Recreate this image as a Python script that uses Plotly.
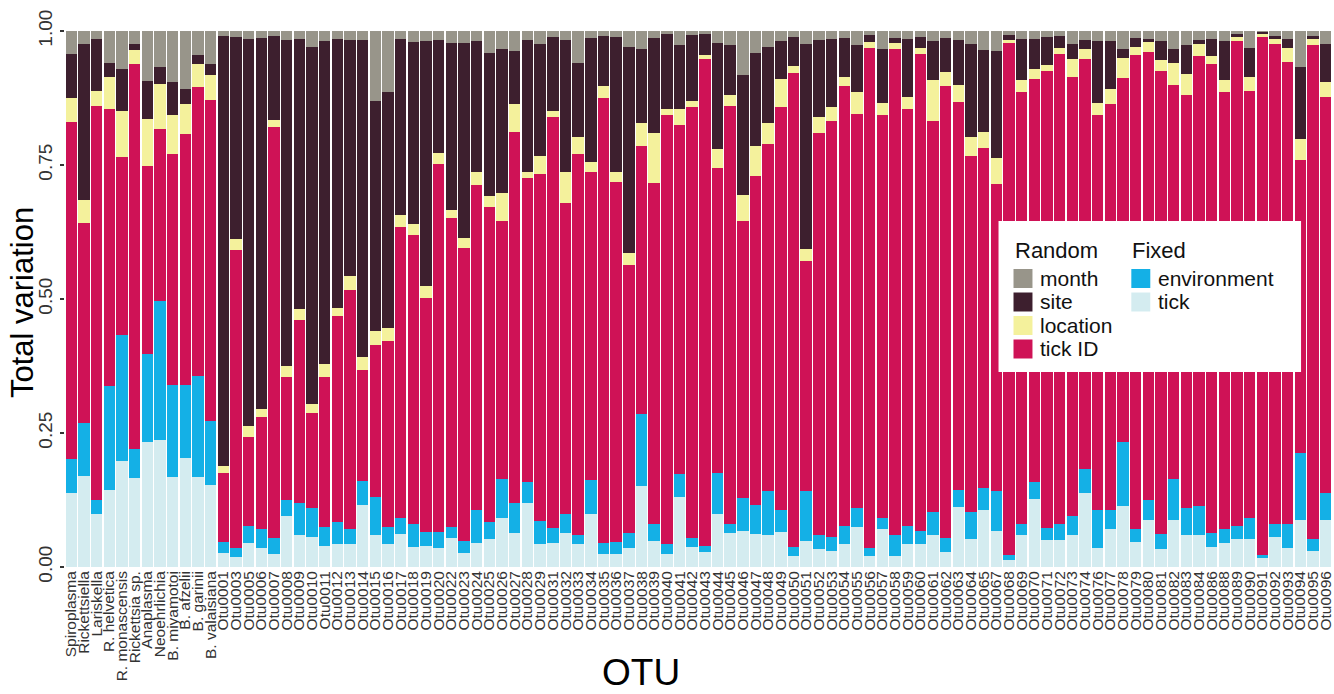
import plotly.graph_objects as go

categories = [
    "Spiroplasma", "Rickettsiella", "Lariskella", "R. helvetica", "R. monascensis",
    "Rickettsia sp.", "Anaplasma", "Neoehrlichia", "B. miyamotoi", "B. afzelii",
    "B. garinii", "B. valaisiana",
    "Otu0001", "Otu0003", "Otu0005", "Otu0006", "Otu0007", "Otu0008", "Otu0009", "Otu0010",
    "Otu0011", "Otu0012", "Otu0013", "Otu0014", "Otu0015", "Otu0016", "Otu0017", "Otu0018",
    "Otu0019", "Otu0020",
    "Otu0022", "Otu0023", "Otu0024", "Otu0025", "Otu0026", "Otu0027", "Otu0028", "Otu0029",
    "Otu0031", "Otu0032", "Otu0033", "Otu0034", "Otu0035", "Otu0036", "Otu0037", "Otu0038",
    "Otu0039", "Otu0040", "Otu0041", "Otu0042", "Otu0043", "Otu0044", "Otu0045", "Otu0046",
    "Otu0047", "Otu0048", "Otu0049", "Otu0050", "Otu0051", "Otu0052",
    "Otu0053", "Otu0054", "Otu0055", "Otu0056", "Otu0057", "Otu0058", "Otu0059", "Otu0060",
    "Otu0061", "Otu0062", "Otu0063", "Otu0064", "Otu0065",
    "Otu0067", "Otu0068", "Otu0069", "Otu0070", "Otu0071", "Otu0072", "Otu0073", "Otu0074",
    "Otu0076", "Otu0077", "Otu0078", "Otu0079", "Otu0080", "Otu0081", "Otu0082", "Otu0083",
    "Otu0084", "Otu0086",
    "Otu0088", "Otu0089", "Otu0090", "Otu0091", "Otu0092", "Otu0093", "Otu0094", "Otu0095",
    "Otu0096",
]

# Fixed effects
tick = [
    .138, .170, .099, .144, .197, .166, .234, .237, .168, .203, .168, .153,
    .027, .018, .044, .036, .025, .095, .059, .056,
    .040, .042, .042, .116, .060, .043, .062, .038, .040, .036,
    .055, .027, .045, .053, .092, .064, .119, .042,
    .044, .064, .042, .099, .025, .025, .036, .151, .049, .025, .131, .038, .028, .099, .064, .068,
    .062, .060, .066, .021, .049, .033,
    .030, .042, .075, .021, .071, .021, .042, .043, .059, .028, .112, .053, .107,
    .068, .013, .059, .127, .051, .051, .059, .138,
    .036, .070, .114, .047, .088, .034, .088, .059, .060,
    .038,
    .044, .053, .053, .016, .056, .036, .088, .030, .088,
]
environment = [
    .063, .099, .026, .194, .235, .054, .164, .259, .172, .137, .189, .120,
    .020, .018, .033, .034, .030, .030, .060, .054,
    .035, .042, .029, .044, .071, .032, .030, .043, .026, .030,
    .020, .022, .061, .031, .072, .055, .039, .044,
    .029, .035, .018, .063, .019, .022, .028, .135, .031, .017, .042, .017, .011, .076, .017, .060,
    .054, .082, .041, .017, .093, .027,
    .026, .035, .035, .015, .020, .038, .035, .025, .044, .027, .031, .050, .040,
    .074, .010, .022, .031, .022, .030, .037, .044,
    .071, .037, .120, .023, .037, .028, .076, .051, .054,
    .026,
    .027, .024, .038, .007, .025, .045, .124, .023, .050,
]
# Random effects
tick_id = [
    .629, .373, .735, .516, .333, .719, .351, .321, .430, .467, .539, .598,
    .128, .556, .166, .209, .765, .230, .342, .178,
    .280, .384, .445, .208, .284, .347, .543, .539, .435, .686,
    .576, .547, .607, .588, .481, .693, .568, .648,
    .766, .581, .710, .575, .831, .672, .499, .499, .637, .801, .651, .803, .908, .569, .779, .517,
    .614, .647, .751, .884, .428, .749,
    .776, .820, .736, .933, .753, .908, .777, .890, .729, .842, .724, .663, .634,
    .573, .955, .805, .753, .853, .877, .819, .766,
    .736, .756, .678, .885, .835, .864, .736, .770, .840,
    .875,
    .815, .904, .798, .966, .895, .862, .547, .920, .738,
]
location = [
    .045, .043, .029, .061, .085, .026, .086, .084, .073, .057, .043, .046,
    .013, .020, .021, .015, .014, .020, .020, .017,
    .023, .016, .026, .024, .025, .024, .021, .020, .024, .020,
    .015, .017, .024, .021, .053, .052, .011, .032,
    .011, .057, .032, .018, .022, .018, .022, .043, .092, .011, .030, .011, .009, .035, .020, .049,
    .055, .039, .053, .013, .023, .030,
    .026, .018, .040, .011, .021, .011, .022, .011, .076, .026, .033, .037, .031,
    .048, .006, .023, .019, .011, .011, .033, .019,
    .022, .029, .037, .015, .020, .019, .041, .039, .021,
    .014,
    .023, .008, .026, .006, .009, .026, .039, .012, .028,
]
site = [
    .083, .291, .096, .026, .080, .011, .072, .031, .061, .028, .017, .022,
    .803, .377, .722, .693, .157, .609, .504, .666,
    .603, .501, .442, .592, .429, .440, .329, .340, .456, .212,
    .312, .365, .244, .266, .269, .099, .247, .210,
    .139, .247, .139, .232, .094, .252, .385, .139, .178, .141, .119, .124, .039, .199, .093, .224,
    .174, .143, .071, .054, .383, .145,
    .127, .072, .088, .013, .102, .009, .109, .020, .073, .064, .084, .173, .153,
    .200, .009, .076, .055, .052, .022, .028, .017,
    .116, .089, .018, .017, .005, .036, .026, .055, .009,
    .032,
    .072, .006, .054, .004, .006, .016, .134, .006, .072,
]
month = [
    .042, .024, .015, .059, .070, .024, .093, .068, .096, .108, .044, .061,
    .009, .011, .014, .013, .009, .016, .015, .029,
    .019, .015, .016, .016, .131, .114, .015, .020, .019, .016,
    .022, .022, .019, .041, .033, .037, .016, .024,
    .011, .016, .059, .013, .009, .011, .030, .033, .013, .005, .027, .007, .005, .022, .027, .082,
    .041, .029, .018, .011, .024, .016,
    .015, .013, .026, .007, .033, .013, .015, .011, .019, .013, .016, .024, .035,
    .037, .007, .015, .015, .011, .009, .024, .016,
    .019, .019, .033, .013, .015, .019, .033, .026, .016,
    .015,
    .019, .005, .031, .001, .009, .015, .068, .009, .024,
]

for arr in (tick, environment, tick_id, location, site, month):
    assert len(arr) == len(categories), len(arr)

y_ticks = [0, 0.25, 0.5, 0.75, 1.0]
y_tick_labels = ["0.00", "0.25", "0.50", "0.75", "1.00"]

legend_groups = ["Random", "Fixed"]
random_terms = ["month", "site", "location", "tick ID"]
fixed_terms = ["environment", "tick"]

colours = {
    "tick": "#d4ecf0",
    "environment": "#14b0e6",
    "tick ID": "#cf1256",
    "location": "#f4f19c",
    "site": "#3d1f2e",
    "month": "#98958a",
}

FONT = "Liberation Sans, Arial, Helvetica, sans-serif"

# figure geometry (pixels)
W, H = 1334, 694
ML, MR, MT, MB = 65, 0, 31, 127
PW, PH = W - ML - MR, H - MT - MB


def px_x(px):
    return (px - ML) / PW


def px_y(py):
    return (H - MB - py) / PH


stack = [("tick", tick), ("environment", environment), ("tick ID", tick_id),
         ("location", location), ("site", site), ("month", month)]

fig = go.Figure()
for name, vals in stack:
    fig.add_trace(go.Bar(
        x=categories, y=vals, name=name, showlegend=False,
        marker=dict(color=colours[name], line=dict(width=0)),
    ))

# ---- legend (two titled columns inside a white box) ----
shapes = [dict(
    type="rect", xref="paper", yref="paper",
    x0=px_x(1000), x1=px_x(1303), y0=px_y(372), y1=px_y(221),
    fillcolor="white", line=dict(width=0), layer="above",
)]
annotations = []
LEG_FONT = 21
columns = [(legend_groups[0], random_terms, 1015, 1034, 1042),
           (legend_groups[1], fixed_terms, 1133, 1152, 1160)]
row_y = [278, 301.5, 325, 348.5]
for title, terms, title_x, sw_x1, text_x in columns:
    annotations.append(dict(
        text=title, xref="paper", yref="paper", x=px_x(title_x - 1), y=px_y(251),
        xanchor="left", yanchor="middle", showarrow=False,
        font=dict(size=22, color="#111111", family=FONT),
    ))
    for term, cy in zip(terms, row_y):
        shapes.append(dict(
            type="rect", xref="paper", yref="paper",
            x0=px_x(title_x), x1=px_x(sw_x1), y0=px_y(cy + 10), y1=px_y(cy - 9),
            fillcolor=colours[term], line=dict(width=0), layer="above",
        ))
        annotations.append(dict(
            text=term, xref="paper", yref="paper", x=px_x(text_x - 2), y=px_y(cy),
            xanchor="left", yanchor="middle", showarrow=False,
            font=dict(size=LEG_FONT, color="#111111", family=FONT),
        ))

# axis titles
annotations.append(dict(
    text="OTU", xref="paper", yref="paper", x=px_x(642), y=px_y(672),
    xanchor="center", yanchor="middle", showarrow=False,
    font=dict(size=37, color="#000000", family=FONT),
))
annotations.append(dict(
    text="Total variation", xref="paper", yref="paper", x=px_x(22), y=px_y(303),
    xanchor="center", yanchor="middle", textangle=-90, showarrow=False,
    font=dict(size=31, color="#000000", family=FONT),
))

fig.update_layout(
    width=W, height=H,
    barmode="stack", bargap=0.1,
    plot_bgcolor="white", paper_bgcolor="white",
    margin=dict(l=ML, r=MR, t=MT, b=MB),
    font=dict(family=FONT, color="#333333"),
    showlegend=False,
    xaxis=dict(
        type="category", tickangle=-90, tickfont=dict(size=15.5, color="#333333"),
        tickmode="array", tickvals=categories, ticktext=categories,
        showgrid=False, zeroline=False, showline=False, ticks="",
    ),
    yaxis=dict(
        range=[0, 1], tickvals=y_ticks, ticktext=y_tick_labels, tickangle=-90,
        tickfont=dict(size=19, color="#333333"),
        ticks="outside", ticklen=4, tickwidth=2, tickcolor="#333333",
        showgrid=False, zeroline=False, showline=False,
    ),
    shapes=shapes,
    annotations=annotations,
)

fig.write_html(
    "out.html",
    config={"displayModeBar": False},
    post_script="document.body.style.margin='0';",
)
